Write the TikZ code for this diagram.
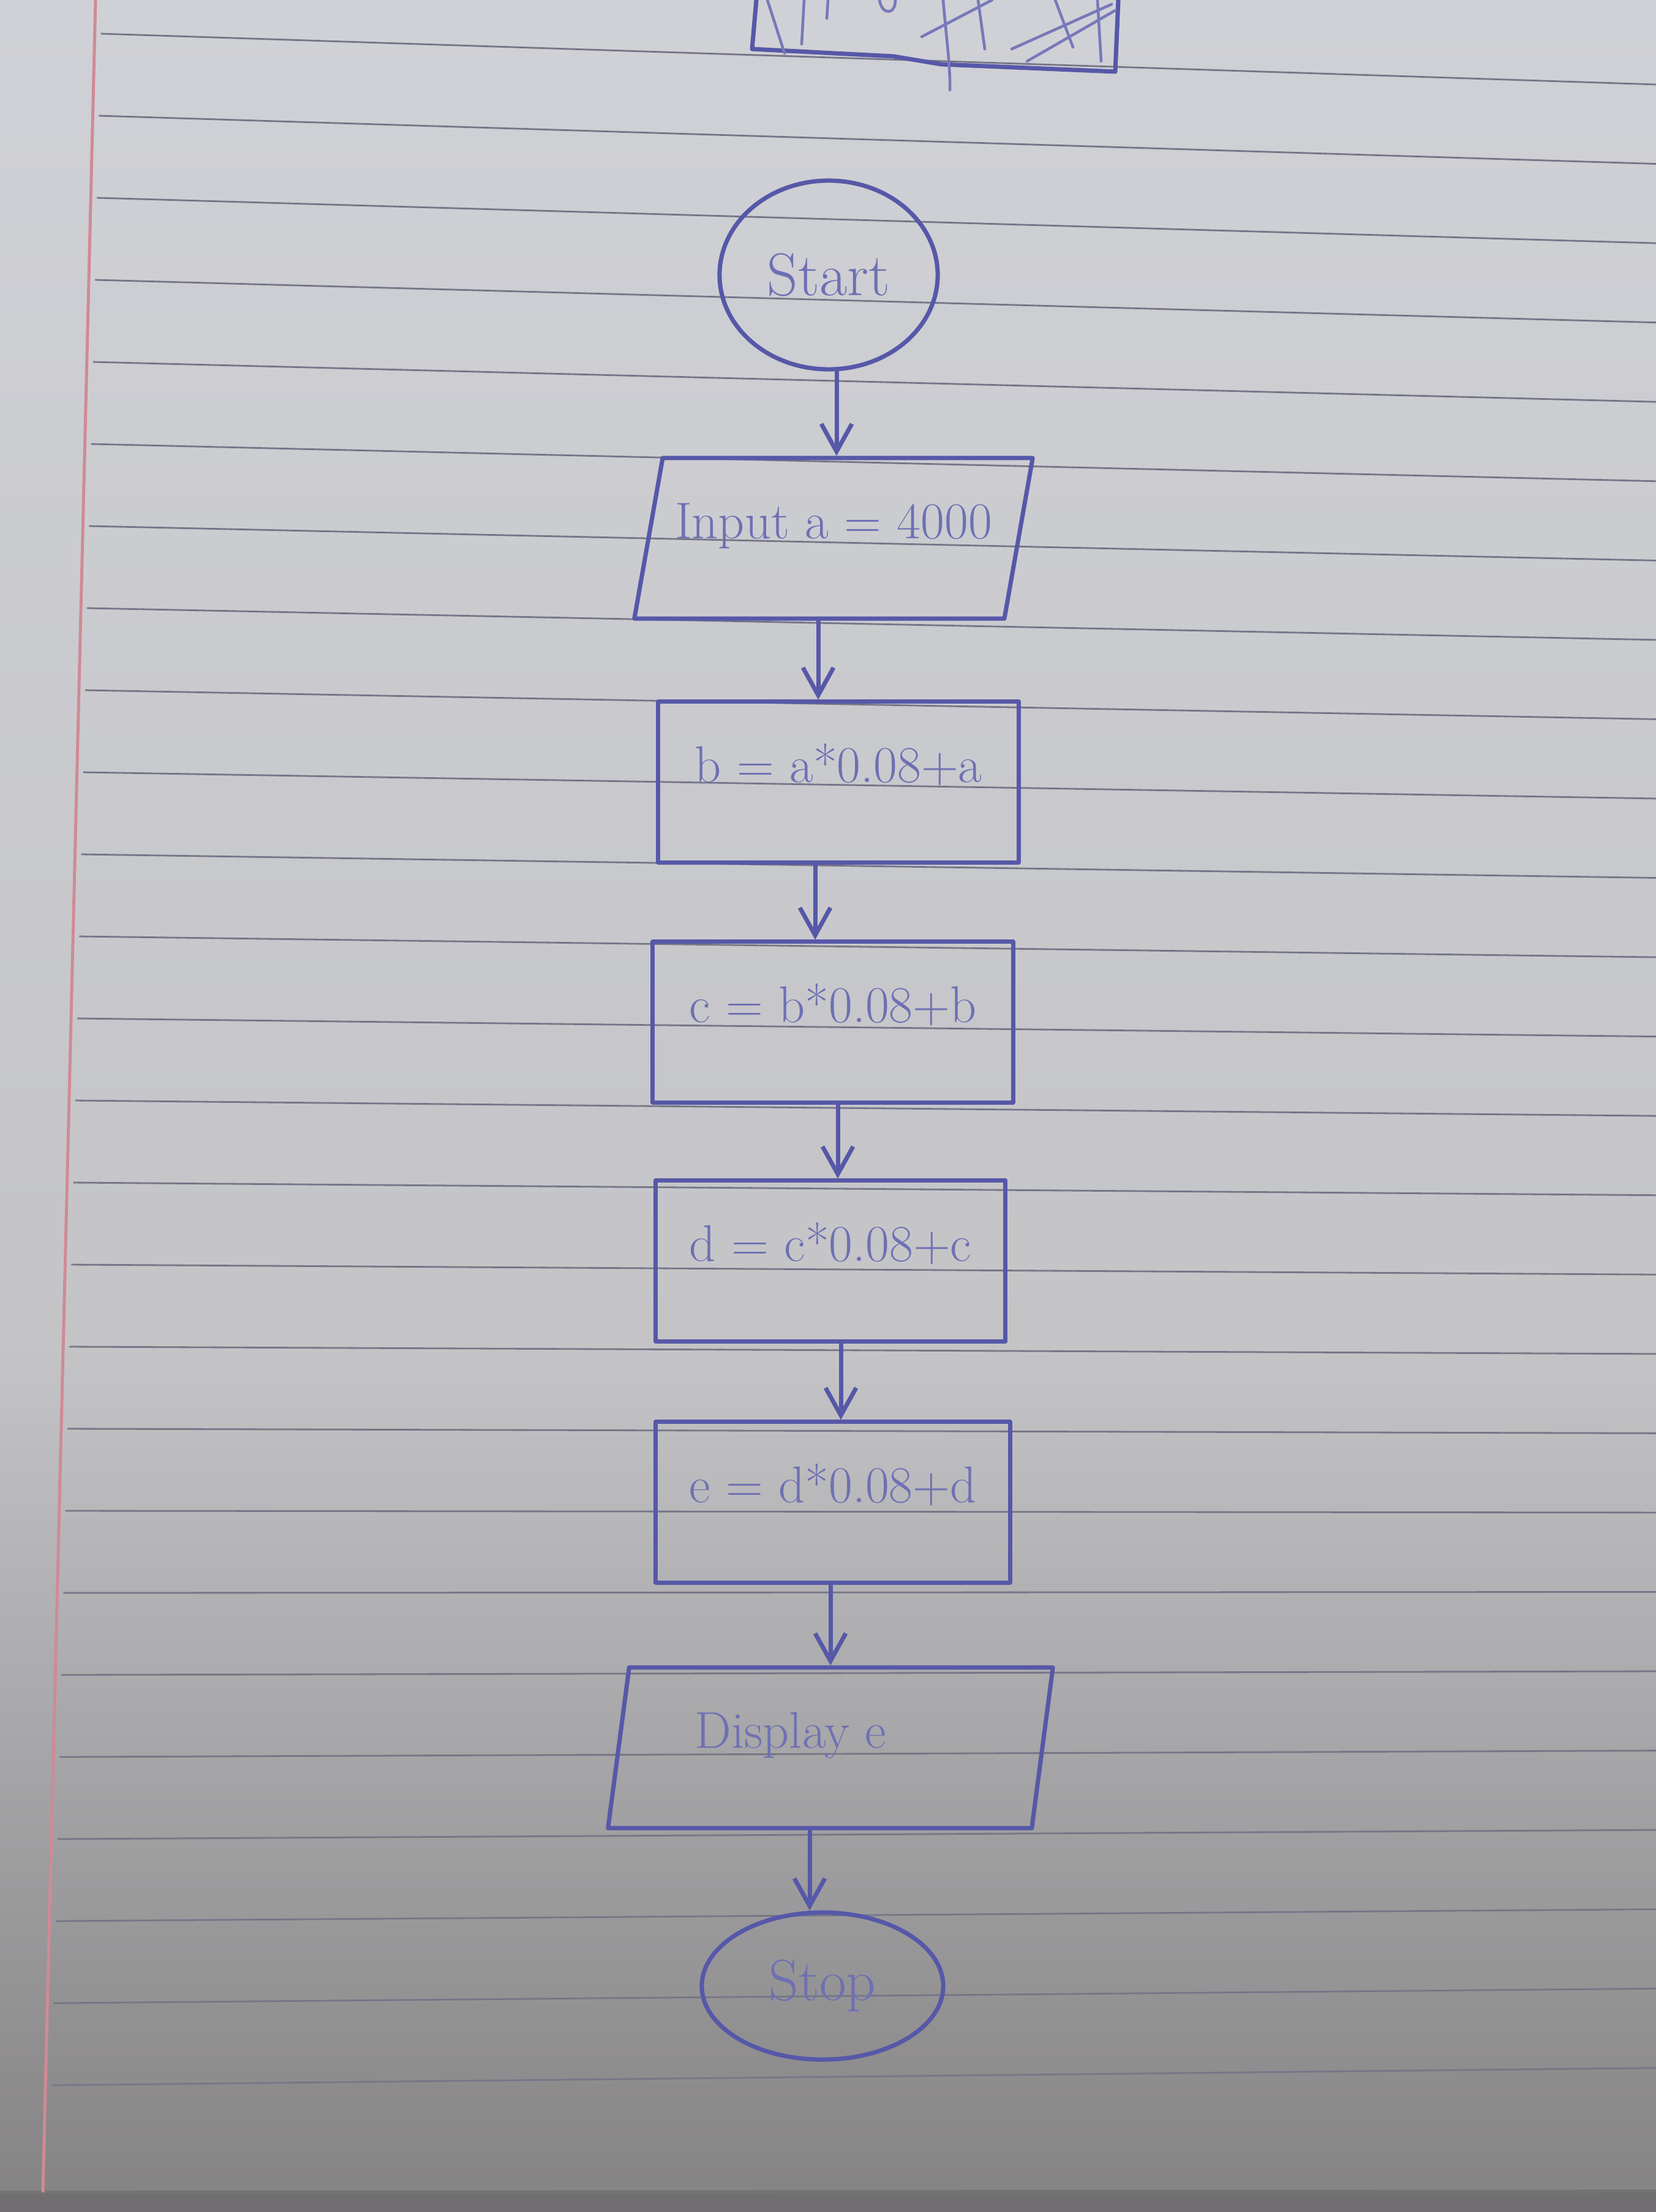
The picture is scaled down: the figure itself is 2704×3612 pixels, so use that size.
\documentclass[tikz,border=0pt]{standalone}
\usetikzlibrary{arrows.meta,shapes.geometric}
\definecolor{ink}{RGB}{86,88,168}
\definecolor{inktext}{RGB}{110,112,180}
\definecolor{rulecol}{RGB}{118,118,136}
\definecolor{margincol}{RGB}{208,138,150}
\definecolor{papertop}{RGB}{208,209,214}
\definecolor{papermid}{RGB}{196,196,199}
\definecolor{paperbot}{RGB}{132,130,131}
\definecolor{edgecol}{RGB}{112,110,112}
\begin{document}
\begin{tikzpicture}[x=0.01cm,y=-0.01cm,
  pen/.style={draw=ink, line width=2pt, line join=round, line cap=round},
  thinpen/.style={draw=ink!80, line width=1.3pt, line cap=round, line join=round},
  txt/.style={text=inktext, font=\fontsize{24}{28}\selectfont},
  procbox/.style={pen, txt, rectangle, inner xsep=0pt, inner ysep=0pt, text height=1.31cm, text depth=1.31cm},
  iobox/.style={pen, txt, trapezium, trapezium stretches body, inner xsep=0pt, inner ysep=0pt, text height=1.31cm, text depth=1.31cm},
  term/.style={pen, txt, ellipse, inner sep=0pt},
  arr/.style={pen, -{Straight Barb[length=0.45cm,width=0.5cm]}},
  ruled/.style={draw=rulecol, line width=0.8pt},
  marginline/.style={draw=margincol, line width=1.4pt},
]
% paper
\useasboundingbox (0,0) rectangle (2704,3612);
\shade[top color=papertop, bottom color=papermid] (0,0) rectangle (2704,2201);
\shade[top color=papermid, bottom color=paperbot] (0,2200) rectangle (2704,3612);
\fill[edgecol] (0,3580) rectangle (2704,3612);
\draw[draw=black!55, line width=1.5pt] (0,3580) -- (2704,3578);
% ruled lines
\foreach \i in {0,...,25} {
  \draw[ruled] ({166-0.024*(55+134*\i)}, {55+134*\i}) -- (2704, {138+129.55*\i});
}
% margin line
\draw[marginline] (156,0) -- (70,3580);

% crossed-out box at the top
\draw[pen] (1235,0) -- (1228,80) -- (1459,92) -- (1537,105) -- (1821,117) -- (1826,0);
\draw[thinpen] (1253,0) -- (1281,87);
\draw[thinpen] (1313,0) -- (1309,72);
\draw[thinpen] (1352,0) -- (1350,30);
\draw[thinpen] (1436,0) .. controls (1440,25) and (1462,25) .. (1462,0);
\draw[thinpen] (1540,0) .. controls (1545,60) and (1552,110) .. (1551,147);
\draw[thinpen] (1505,60) -- (1620,0);
\draw[thinpen] (1597,0) -- (1608,80);
\draw[thinpen] (1652,80) -- (1815,7);
\draw[thinpen] (1677,100) -- (1821,17);
\draw[thinpen] (1723,0) -- (1752,77);
\draw[thinpen] (1792,0) -- (1798,100);

% flowchart nodes
\node[term, minimum width=3.56cm, minimum height=3.08cm, font=\fontsize{28}{32}\selectfont] (start) at (1353,449) {Start};
\node[iobox, trapezium left angle=80, trapezium right angle=100, minimum width=6.5cm] (input) at (1361,879) {Input a = 4000};
\node[procbox, minimum width=5.88cm] (bval) at (1369,1277) {b = a*0.08+a};
\node[procbox, minimum width=5.88cm] (cval) at (1360,1669) {c = b*0.08+b};
\node[procbox, minimum width=5.71cm] (dval) at (1356,2059) {d = c*0.08+c};
\node[procbox, minimum width=5.78cm] (eval) at (1360,2453) {e = d*0.08+d};
\node[iobox, trapezium left angle=82.5, trapezium right angle=97.5, minimum width=7.26cm] (disp) at (1356,2854) {Display e\hspace*{1.3cm}};
\node[term, minimum width=3.94cm, minimum height=2.4cm, font=\fontsize{27}{31}\selectfont] (stop) at (1343,3243) {Stop};

% connector columns
\coordinate (a1) at (1366,0);
\coordinate (a2) at (1336,0);
\coordinate (a3) at (1331,0);
\coordinate (a4) at (1368,0);
\coordinate (a5) at (1373,0);
\coordinate (a6) at (1356,0);
\coordinate (a7) at (1322,0);

\draw[arr] (start.south -| a1) -- (input.north -| a1);
\draw[arr] (input.south -| a2) -- (bval.north -| a2);
\draw[arr] (bval.south -| a3) -- (cval.north -| a3);
\draw[arr] (cval.south -| a4) -- (dval.north -| a4);
\draw[arr] (dval.south -| a5) -- (eval.north -| a5);
\draw[arr] (eval.south -| a6) -- (disp.north -| a6);
\draw[arr] (disp.south -| a7) -- (stop.north -| a7);
\end{tikzpicture}
\end{document}
